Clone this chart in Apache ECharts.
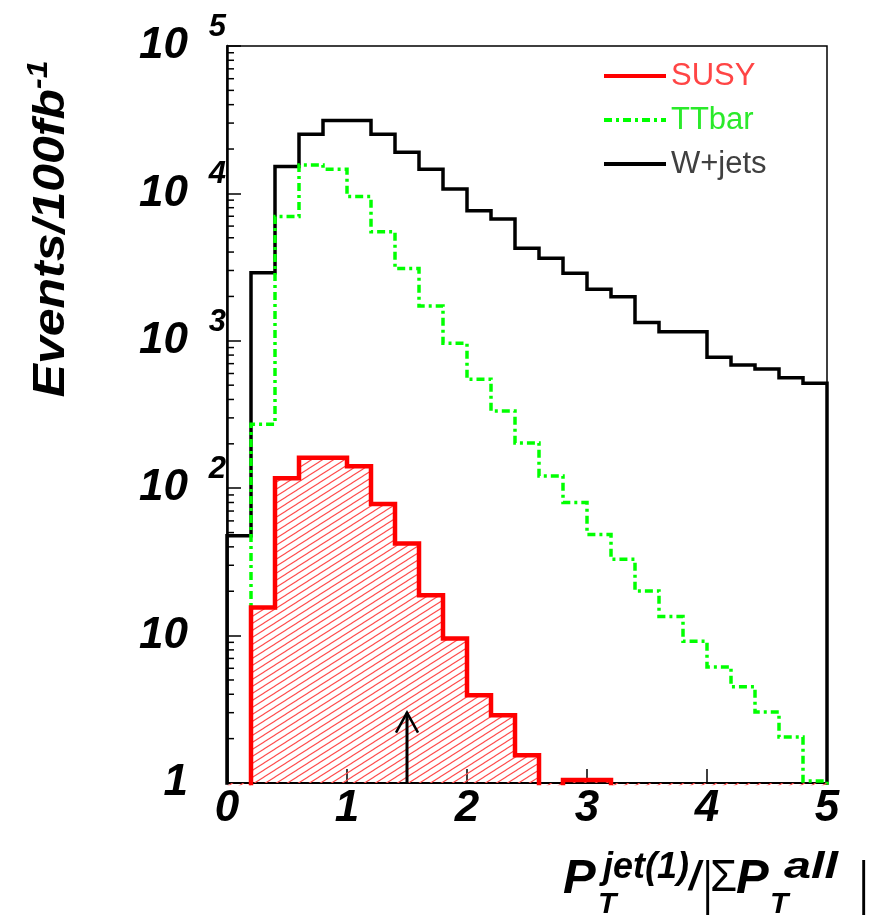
<!DOCTYPE html>
<html><head><meta charset="utf-8">
<script src="https://cdn.jsdelivr.net/npm/echarts@6/dist/echarts.min.js"></script>
<style>html,body{margin:0;padding:0;background:#fff}#c{width:875px;height:919px}</style>
</head><body><div id="c"></div>
<script>
// ---- data ----
const binEdges = [0,0.2,0.4,0.6,0.8,1.0,1.2,1.4,1.6,1.8,2.0,2.2,2.4,2.6,2.8,3.0,3.2,3.4,3.6,3.8,4.0,4.2,4.4,4.6,4.8,5.0];
const wjets = [47.5,2890,15200,25200,31200,31200,25200,19000,14600,10700,7640,6710,4250,3630,2870,2240,1990,1330,1150,1150,773,685,644,562,515];
const ttbar = [0,272,6960,15600,14600,9510,5500,3090,1720,962,548,334,203,121,80,48.6,32.9,20.1,13.5,9.16,6.13,4.49,3.03,2.05,1.03];
const susy  = [0,15.5,117,161,161,141,78,42.2,18.8,9.56,3.94,2.88,1.54,0,1.05,1.05,0,0,0,0,0,0,0,0,0];
const yTickLabels = [[1,'1',''],[10,'10',''],[100,'10','2'],[1000,'10','3'],[10000,'10','4'],[100000,'10','5']];
const xTickLabels = ['0','1','2','3','4','5'];
const yMinorTicks = [2,3,4,5,6,7,8,9,20,30,40,50,60,70,80,90,200,300,400,500,600,700,800,900,
  2000,3000,4000,5000,6000,7000,8000,9000,20000,30000,40000,50000,60000,70000,80000,90000];
const cutArrow = [[1.5, 1, 3]]; // x, from, to
const seriesNames = ['SUSY','TTbar','W+jets'];

// ---- helpers ----
const FLOOR = 0.3; // empty bins drawn below the axis minimum (clipped)
function steps(vals){
  const pts = [[binEdges[0], FLOOR]];
  for (let i = 0; i < vals.length; i++) {
    const v = vals[i] > 0 ? vals[i] : FLOOR;
    pts.push([binEdges[i], v], [binEdges[i+1], v]);
  }
  pts.push([binEdges[binEdges.length-1], FLOOR]);
  return pts;
}
const hatch = document.createElement('canvas');
hatch.width = 11; hatch.height = 7;
(function(){
  const c = hatch.getContext('2d');
  c.strokeStyle = '#ff4a4a'; c.lineWidth = 1.1;
  const W = 11, H = 7, s = H / W;
  for (let k = -1; k <= 1; k++) {
    c.beginPath();
    c.moveTo(-2, H + H*k + 2*s); c.lineTo(W + 2, H*k - 2*s);
    c.stroke();
  }
})();

const SANS = '"Liberation Sans", Arial, sans-serif';

const chart = echarts.init(document.getElementById('c'), null, {renderer:'canvas'});

function txt(text, x, y, size, opt){
  opt = opt || {};
  return {type:'text', x:x, y:y, scaleX: opt.sx || 1, scaleY: opt.sy || 1, z: 100,
    style:{text:text, fill:'#000', fontFamily: SANS, fontSize:size,
      fontWeight: opt.weight || 'bold', fontStyle: opt.style || 'italic',
      align:'left', verticalAlign:'middle'}};
}

chart.setOption({
  animation:false,
  backgroundColor:'#fff',
  grid:{left:227, right:48, top:46, bottom:136, show:true, borderColor:'#000', borderWidth:1.5, backgroundColor:'transparent'},
  legend:{
    data:[{name:'SUSY', textStyle:{color:'#ff4545'}},{name:'TTbar', textStyle:{color:'#2aea2a'}},{name:'W+jets', textStyle:{color:'#404040'}}],
    orient:'vertical', left:597, top:55, itemWidth:62, itemHeight:14, itemGap:12,
    itemStyle:{opacity:0},
    lineStyle:{width:4},
    textStyle:{fontFamily:SANS, fontSize:31, lineHeight:32, padding:[0,0,0,0]}
  },
  xAxis:{type:'value', min:0, max:5, interval:1,
    axisLine:{lineStyle:{color:'#000', width:2}},
    axisTick:{inside:true, length:14, lineStyle:{color:'#000', width:1.5}},
    axisLabel:{margin:4, color:'#000', fontFamily:SANS, fontWeight:'bold', fontStyle:'italic', fontSize:44,
      formatter:(v)=>xTickLabels[Math.round(v)]},
    splitLine:{show:false}},
  yAxis:{type:'log', logBase:10, min:1, max:100000,
    axisLine:{show:true, lineStyle:{color:'#000', width:2.5}},
    axisTick:{show:true, inside:true, length:14, lineStyle:{color:'#000', width:1.5}},
    axisLabel:{margin:1,
      formatter:(v)=>{const e = yTickLabels.find(t=>Math.abs(Math.log10(t[0])-Math.log10(v))<1e-6); return e ? '{b|'+e[1]+'}{e|'+(e[2]||' ')+'}' : '';},
      rich:{
        b:{fontFamily:SANS, fontWeight:'bold', fontStyle:'italic', fontSize:44, lineHeight:68, color:'#000'},
        e:{fontFamily:SANS, fontWeight:'bold', fontStyle:'italic', fontSize:31, lineHeight:4, width:24, padding:[0,0,0,14], verticalAlign:'top', color:'#000'}
      }},
    splitLine:{show:false}},
  series:[
    {type:'line', name:'W+jets', data:steps(wjets), symbol:'none', z:3,
      itemStyle:{color:'#000'}, lineStyle:{color:'#000', width:3.5, join:'miter'}},
    {type:'line', name:'TTbar', data:steps(ttbar), symbol:'none', z:4,
      itemStyle:{color:'#00ff00'}, lineStyle:{color:'#00ff00', width:3.5, type:[8,4,3,4], join:'miter'}},
    {type:'line', name:'SUSY', data:steps(susy), symbol:'none', z:5,
      itemStyle:{color:'#ff0000'}, lineStyle:{color:'#ff0000', width:4.5, join:'miter'},
      areaStyle:{color:{image:hatch, repeat:'repeat'}, opacity:1, origin:'start'}},
    {type:'custom', name:'minorTicks', data:yMinorTicks.map(v=>[0,v]), silent:true, z:6, clip:false,
      encode:{x:0, y:1},
      renderItem:(p, api)=>{const c = api.coord([api.value(0), api.value(1)]);
        return {type:'line', shape:{x1:c[0], y1:c[1], x2:c[0]+7, y2:c[1]}, style:{stroke:'#000', lineWidth:1.5}};}},
    {type:'custom', name:'cut', data:cutArrow, silent:true, z:7, encode:{x:0, y:[1,2]},
      renderItem:(p, api)=>{const b = api.coord([api.value(0), api.value(1)]); const t = api.coord([api.value(0), api.value(2)]);
        return {type:'group', children:[
          {type:'line', shape:{x1:b[0], y1:b[1], x2:t[0], y2:t[1]}, style:{stroke:'#000', lineWidth:3}},
          {type:'polyline', shape:{points:[[t[0]-11, t[1]+20],[t[0], t[1]],[t[0]+11, t[1]+20]]}, style:{stroke:'#000', lineWidth:2.5, fill:null}}]};}}
  ],
  graphic:[
    {type:'text', x:52, y:229, rotation:Math.PI/2, scaleY:0.9, z:100,
      style:{text:'{a|Events/100fb}{s|-1}', align:'center', verticalAlign:'middle',
        rich:{a:{fontFamily:SANS, fontWeight:'bold', fontStyle:'italic', fontSize:50, lineHeight:60, fill:'#000'},
              s:{fontFamily:SANS, fontWeight:'bold', fontStyle:'italic', fontSize:32, lineHeight:30, verticalAlign:'top', fill:'#000'}}}},
    txt('P', 563, 879, 49),
    txt('T', 598, 905, 30),
    txt('jet(1)', 603, 868, 36),
    txt('/', 689, 879, 40),
    txt('|', 703, 886, 60, {weight:'normal', style:'normal', sx:0.6}),
    txt('\u03A3', 710, 879, 44, {weight:'normal', style:'normal'}),
    txt('P', 736, 879, 49),
    txt('T', 770, 905, 30),
    txt('all', 784, 868, 36, {sx:1.35}),
    txt('|', 859, 886, 60, {weight:'normal', style:'normal', sx:0.6})
  ]
});
</script>
</body></html>
